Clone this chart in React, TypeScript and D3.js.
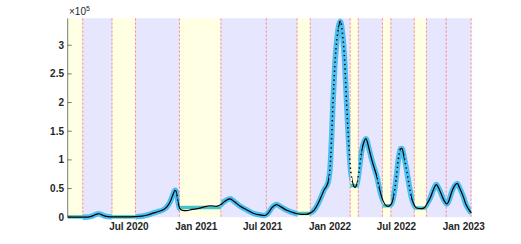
import React from 'react';
import * as d3 from 'd3';

// daily cases (7-day smoothed)
const dates = [
  '2020-01-16', '2020-02-01', '2020-02-26', '2020-03-10', '2020-03-20', '2020-03-28', '2020-04-05',
  '2020-04-10', '2020-04-17', '2020-04-25', '2020-05-05', '2020-05-20', '2020-06-10', '2020-07-01',
  '2020-07-20', '2020-08-05', '2020-08-20', '2020-09-05', '2020-09-20', '2020-10-03', '2020-10-12',
  '2020-10-21', '2020-10-28', '2020-11-04', '2020-11-08', '2020-11-12', '2020-11-17', '2020-11-24',
  '2020-12-05', '2020-12-20', '2021-01-05', '2021-01-20', '2021-02-08', '2021-02-25', '2021-03-09',
  '2021-03-20', '2021-04-03', '2021-04-15', '2021-05-01', '2021-05-18', '2021-06-05', '2021-06-23',
  '2021-07-07', '2021-07-17', '2021-07-27', '2021-08-08', '2021-08-20', '2021-09-05', '2021-09-27',
  '2021-10-15', '2021-10-28', '2021-11-08', '2021-11-18', '2021-11-28', '2021-12-08', '2021-12-16',
  '2021-12-23', '2021-12-28', '2022-01-01', '2022-01-05', '2022-01-09', '2022-01-14', '2022-01-20',
  '2022-01-25', '2022-01-29', '2022-02-04', '2022-02-10', '2022-02-15', '2022-02-20', '2022-02-25',
  '2022-03-03', '2022-03-10', '2022-03-16', '2022-03-22', '2022-03-29', '2022-04-04', '2022-04-09',
  '2022-04-17', '2022-04-25', '2022-05-01', '2022-05-09', '2022-05-15', '2022-05-22', '2022-06-07',
  '2022-06-16', '2022-06-23', '2022-06-30', '2022-07-06', '2022-07-12', '2022-07-16', '2022-07-22',
  '2022-07-29', '2022-08-05', '2022-08-11', '2022-08-18', '2022-08-25', '2022-09-08', '2022-09-16',
  '2022-09-23', '2022-10-01', '2022-10-10', '2022-10-18', '2022-10-25', '2022-11-02', '2022-11-09',
  '2022-11-16', '2022-11-22', '2022-11-29', '2022-12-07', '2022-12-14', '2022-12-20', '2022-12-31',
  '2023-01-07', '2023-01-13', '2023-01-22',
];
const cases = [
  0, 0, 100, 300, 1500, 3500, 5500,
  6000, 4500, 2200, 1000, 600, 500, 600,
  900, 1800, 3800, 7000, 10000, 13000, 17500,
  26000, 37000, 47000, 43000, 27000, 15000, 12000,
  11500, 13500, 15000, 17500, 20000, 19000, 22000,
  28000, 32000, 27000, 19000, 13000, 7000, 4000,
  3000, 8000, 17000, 22000, 18000, 12000, 7000,
  5000, 5000, 7500, 12000, 22000, 36000, 48000,
  55000, 65000, 85000, 135000, 200000, 265000, 312000,
  335000, 342000, 320000, 270000, 200000, 140000, 90000,
  62000, 52000, 60000, 85000, 118000, 132000, 137000,
  120000, 100000, 87000, 70000, 52000, 35000, 19000,
  22000, 35000, 65000, 99000, 119000, 120000, 105000,
  82000, 55000, 35000, 22000, 16000, 15000, 17000,
  24000, 33000, 48000, 57000, 50000, 38000, 28000,
  23000, 30000, 44000, 55000, 59000, 52000, 35000,
  22000, 15000, 7000,
];

// phases: start dates, kind, and the flat level of each plateau phase
const phaseStarts = [
  '2020-01-16', '2020-02-26', '2020-05-16', '2020-07-19', '2020-11-16', '2021-03-09', '2021-07-11',
  '2021-10-03', '2021-11-08', '2022-02-25', '2022-03-19', '2022-05-24', '2022-06-16', '2022-08-19',
  '2022-09-21', '2022-11-14',
];
const phaseEnd = '2023-01-21';
const phaseKinds = [
  'plateau', 'wave', 'plateau', 'wave', 'plateau', 'wave', 'wave',
  'plateau', 'wave', 'plateau', 'wave', 'plateau', 'wave', 'plateau',
  'wave', 'wave',
];
const plateauLevels = [500, 500, 17000, 6500, 55000, 20000, 16000];

const xTickDates = ['2020-07-01', '2021-01-01', '2021-07-01', '2022-01-01', '2022-07-01', '2023-01-01'];
const xTickLabels = ['Jul 2020', 'Jan 2021', 'Jul 2021', 'Jan 2022', 'Jul 2022', 'Jan 2023'];
const yTicks = [0, 0.5, 1, 1.5, 2, 2.5, 3];

const W = 521, H = 244;
const left = 67.7, right = 471.5, top = 18.3, bottom = 217.2;
const font = '"Liberation Sans", Arial, sans-serif';

const parse = d3.timeParse('%Y-%m-%d');

export default function App() {
  const x = d3.scaleTime()
    .domain([parse('2020-01-16')!, parse('2023-01-22')!])
    .range([left, right]);
  const y = d3.scaleLinear().domain([0, 3.47e5]).range([bottom, top]);

  const pts = dates.map((d, i) => ({ date: parse(d)!, v: cases[i] }));
  const line = d3.line<{ date: Date; v: number }>()
    .x(d => x(d.date))
    .y(d => y(d.v))
    .curve(d3.curveMonotoneX);
  const path = line(pts) || '';

  // where the daily dots spread apart (steep stretches) the black trace looks dotted
  const spans = pts.slice(1).map((p, i) => {
    const x0 = x(pts[i].date), x1 = x(p.date);
    const slope = Math.abs(y(p.v) - y(pts[i].v)) / (x1 - x0);
    return { x0, x1, steep: slope > 4 };
  });

  const phases = phaseStarts.map((s, i) => ({
    start: parse(s)!,
    end: parse(i + 1 < phaseStarts.length ? phaseStarts[i + 1] : phaseEnd)!,
    kind: phaseKinds[i],
  }));
  let pi = 0;
  const plateaus = phases.filter(p => p.kind === 'plateau').map(p => ({ ...p, level: plateauLevels[pi++] }));
  const redLines = [...phaseStarts.slice(1), phaseEnd].map(d => parse(d)!);

  return (
    <svg width={W} height={H} style={{ position: 'absolute', left: 0, top: 0, background: '#fff' }}>
      <defs>
        <clipPath id="waves">
          {phases.filter(p => p.kind === 'wave').map((p, i) => (
            <rect key={i} x={x(p.start)} y={0} width={x(p.end) - x(p.start)} height={H} />
          ))}
        </clipPath>
        <clipPath id="flat">
          {spans.filter(s => !s.steep).map((s, i) => (
            <rect key={i} x={s.x0 - 0.3} y={0} width={s.x1 - s.x0 + 0.6} height={H} />
          ))}
        </clipPath>
        <clipPath id="steep">
          {spans.filter(s => s.steep).map((s, i) => (
            <rect key={i} x={s.x0} y={0} width={s.x1 - s.x0} height={H} />
          ))}
        </clipPath>
      </defs>

      {phases.map((p, i) => (
        <rect key={i} x={x(p.start)} y={top} width={x(p.end) - x(p.start)} height={bottom - top}
          fill={p.kind === 'wave' ? '#e6e6ff' : '#ffffe3'} />
      ))}

      {redLines.map((d, i) => (
        <line key={i} x1={x(d)} x2={x(d)} y1={top} y2={bottom}
          stroke="#ff4040" strokeOpacity={0.8} strokeWidth={0.7} strokeDasharray="2.5 1.5" />
      ))}

      {plateaus.map((p, i) => (
        <line key={i} x1={x(p.start)} x2={x(p.end)} y1={y(p.level)} y2={y(p.level)}
          stroke="#45c3c6" strokeWidth={3.5} />
      ))}

      <path d={path} fill="none" stroke="#4dbeee" strokeWidth={5.5} strokeLinejoin="round"
        clipPath="url(#waves)" />
      <path d={path} fill="none" stroke="#000" strokeWidth={1.2} strokeLinejoin="round"
        clipPath="url(#flat)" />
      <path d={path} fill="none" stroke="#000" strokeWidth={1.5} strokeDasharray="1.3 3.2"
        clipPath="url(#steep)" />

      <line x1={left} x2={left} y1={top} y2={bottom} stroke="#262626" strokeWidth={0.6} />
      {yTicks.map(t => (
        <g key={t}>
          <line x1={left} x2={left + 4} y1={y(t * 1e5)} y2={y(t * 1e5)} stroke="#262626" strokeWidth={0.6} />
          <text x={left - 3.7} y={y(t * 1e5)} dy="0.35em" textAnchor="end" fontFamily={font}
            fontSize={10} fontWeight="bold" fill="#262626">{t}</text>
        </g>
      ))}
      <text x={69} y={15} fontFamily={font} fontSize={10} fill="#262626">
        ×10<tspan dy={-4} fontSize={7}>5</tspan>
      </text>

      {xTickDates.map((d, i) => (
        <text key={d} x={x(parse(d)!)} y={230} textAnchor="middle" fontFamily={font}
          fontSize={10} fontWeight="bold" fill="#262626">{xTickLabels[i]}</text>
      ))}
    </svg>
  );
}
